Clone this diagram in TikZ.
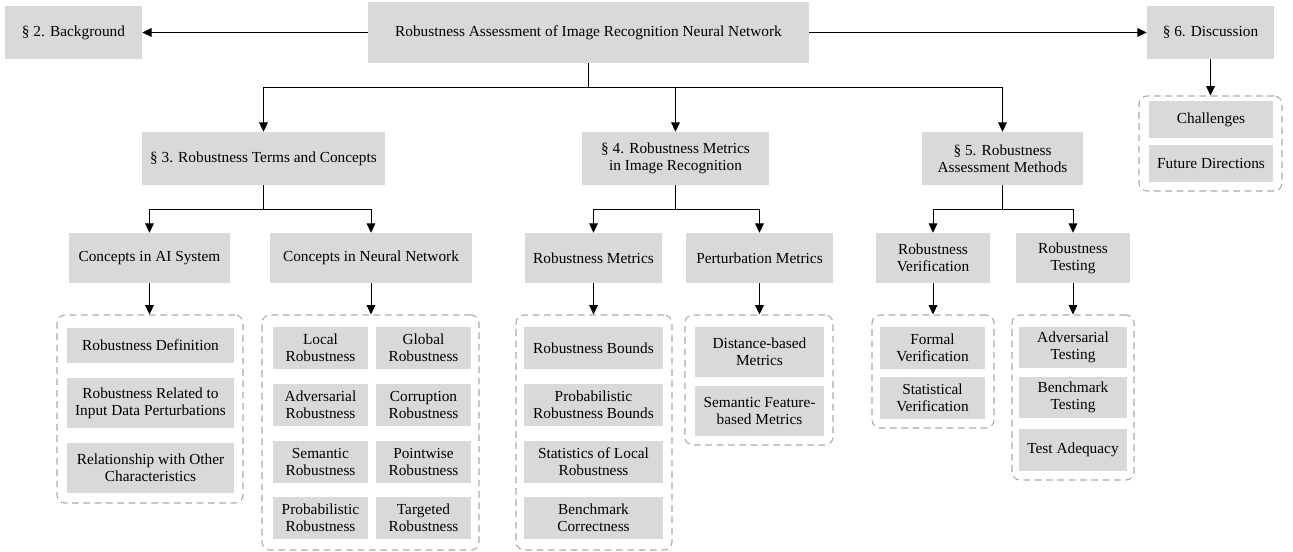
\documentclass[tikz,border=0pt]{standalone}
\usepackage{fontspec}
\setmainfont{Liberation Serif}
\usetikzlibrary{arrows.meta}
\definecolor{boxgray}{RGB}{217,217,217}
\definecolor{dashgray}{RGB}{170,170,170}
\begin{document}
\begin{tikzpicture}[x=0.75pt,y=-0.75pt,
  every node/.style={font=\fontsize{11.5}{13}\selectfont, align=center, inner sep=0pt},
  box/.style={fill=boxgray, draw=none},
  sz/.style 2 args={minimum width=#1*0.75pt, minimum height=#2*0.75pt},
  grp/.style={draw=dashgray, line width=0.8pt, dash pattern=on 5pt off 3.5pt, rounded corners=6pt, fill=none},
  arr/.style={-{Triangle[length=7pt,width=6.5pt]}, line width=0.75pt},
  ln/.style={line width=0.75pt}]
\useasboundingbox (0,0) rectangle (1293,551);

% top row
\node[box, sz={137}{53}] (bg) at (73.5,32.5) {§ 2. Background};
\node[box, sz={441}{61}] (root) at (588.5,32.5) {Robustness Assessment of Image Recognition Neural Network};
\node[box, sz={127}{53}] (disc) at (1210.5,32.5) {§ 6. Discussion};

% discussion group
\node[grp, sz={143}{95}] (gdisc) at (1210.5,143.5) {};
\node[box, sz={124}{37}] (chal) at (1211,119.5) {Challenges};
\node[box, sz={124}{37}] (fut) at (1211,163.5) {Future Directions};

% sections
\node[box, sz={243}{53}] (s3) at (263.5,158.5) {§ 3. Robustness Terms and Concepts};
\node[box, sz={187}{53}] (s4) at (675.5,158.5) {§ 4. Robustness Metrics\\in Image Recognition};
\node[box, sz={161}{53}] (s5) at (1002.5,158.5) {§ 5. Robustness\\Assessment Methods};

% subsections
\node[box, sz={161}{50}] (ai) at (149.5,258) {Concepts in AI System};
\node[box, sz={202}{50}] (nn) at (371,258) {Concepts in Neural Network};
\node[box, sz={137}{50}] (rm) at (593.5,258) {Robustness Metrics};
\node[box, sz={147}{50}] (pm) at (759.5,258) {Perturbation Metrics};
\node[box, sz={114}{50}] (rv) at (933,258) {Robustness\\Verification};
\node[box, sz={114}{50}] (rt) at (1073,258) {Robustness\\Testing};

% groups
\node[grp, sz={186}{188}] (gai) at (150,409) {};
\node[grp, sz={217}{235}] (gnn) at (370.5,432.5) {};
\node[grp, sz={156}{235}] (grm) at (594,432.5) {};
\node[grp, sz={148}{130}] (gpm) at (759,380) {};
\node[grp, sz={122}{113}] (grv) at (933,371.5) {};
\node[grp, sz={122}{165}] (grt) at (1073,397.5) {};

% AI items
\node[box, sz={167}{35}] (ai1) at (150.5,345.5) {Robustness Definition};
\node[box, sz={167}{50}] (ai2) at (150.5,403) {Robustness Related to\\Input Data Perturbations};
\node[box, sz={167}{50}] (ai3) at (150.5,468) {Relationship with Other\\Characteristics};

% NN items
\node[box, sz={95}{42}] (nn1) at (320.5,348) {Local\\Robustness};
\node[box, sz={95}{42}] (nn2) at (423.5,348) {Global\\Robustness};
\node[box, sz={95}{42}] (nn3) at (320.5,405) {Adversarial\\Robustness};
\node[box, sz={95}{42}] (nn4) at (423.5,405) {Corruption\\Robustness};
\node[box, sz={95}{42}] (nn5) at (320.5,462) {Semantic\\Robustness};
\node[box, sz={95}{42}] (nn6) at (423.5,462) {Pointwise\\Robustness};
\node[box, sz={95}{42}] (nn7) at (320.5,518) {Probabilistic\\Robustness};
\node[box, sz={95}{42}] (nn8) at (423.5,518) {Targeted\\Robustness};

% RM items
\node[box, sz={139}{42}] (rm1) at (593.5,348) {Robustness Bounds};
\node[box, sz={139}{42}] (rm2) at (593.5,405) {Probabilistic\\Robustness Bounds};
\node[box, sz={139}{42}] (rm3) at (593.5,462) {Statistics of Local\\Robustness};
\node[box, sz={139}{42}] (rm4) at (593.5,518) {Benchmark\\Correctness};

% PM items
\node[box, sz={129}{50}] (pm1) at (759.5,352) {Distance-based\\Metrics};
\node[box, sz={129}{50}] (pm2) at (759.5,411) {Semantic Feature-\\based Metrics};

% RV items
\node[box, sz={105}{42}] (rv1) at (932.5,348) {Formal\\Verification};
\node[box, sz={105}{42}] (rv2) at (932.5,398) {Statistical\\Verification};

% RT items
\node[box, sz={108}{41}] (rt1) at (1073,347.5) {Adversarial\\Testing};
\node[box, sz={108}{41}] (rt2) at (1073,397.5) {Benchmark\\Testing};
\node[box, sz={108}{42}] (rt3) at (1073,450) {Test Adequacy};

% connectors
\draw[arr] (root.west) -- (bg.east);
\draw[arr] (root.east) -- (disc.west);
\draw[arr] (disc.south) -- (gdisc.north);

\coordinate (j0) at (588.5,87);
\draw[ln] (root.south) -- (j0);
\draw[arr] (j0) -| (s3.north);
\draw[arr] (j0) -| (s4.north);
\draw[arr] (j0) -| (s5.north);

\coordinate (j3) at (263.5,209);
\draw[ln] (s3.south) -- (j3);
\draw[arr] (j3) -| (ai.north);
\draw[arr] (j3) -| (nn.north);

\coordinate (j4) at (675.5,209);
\draw[ln] (s4.south) -- (j4);
\draw[arr] (j4) -| (rm.north);
\draw[arr] (j4) -| (pm.north);

\coordinate (j5) at (1002.5,209);
\draw[ln] (s5.south) -- (j5);
\draw[arr] (j5) -| (rv.north);
\draw[arr] (j5) -| (rt.north);

\draw[arr] (ai.south) -- (ai.south |- gai.north);
\draw[arr] (nn.south) -- (nn.south |- gnn.north);
\draw[arr] (rm.south) -- (rm.south |- grm.north);
\draw[arr] (pm.south) -- (pm.south |- gpm.north);
\draw[arr] (rv.south) -- (rv.south |- grv.north);
\draw[arr] (rt.south) -- (rt.south |- grt.north);
\end{tikzpicture}
\end{document}
